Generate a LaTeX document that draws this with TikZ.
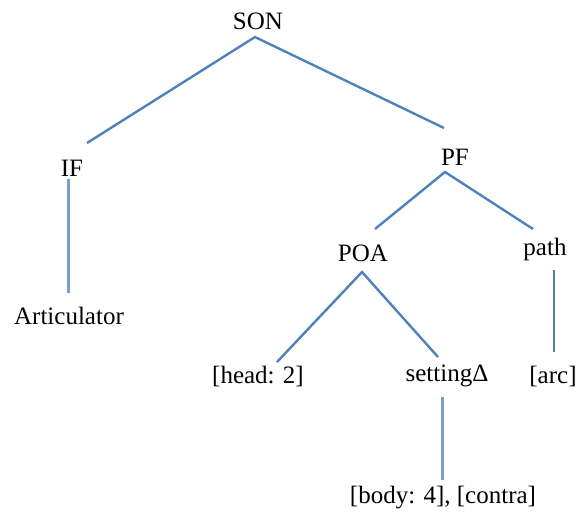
\documentclass[tikz,border=0pt]{standalone}
\usepackage{fontspec}
\setmainfont{Liberation Serif}
\begin{document}
\begin{tikzpicture}[x=1pt,y=-1pt,
  lbl/.style={inner sep=0pt, font=\fontsize{25}{29}\selectfont},
  edge/.style={draw={rgb,255:red,79;green,129;blue,189}, line width=2.4pt},
  vedge/.style={draw={rgb,255:red,120;green,158;blue,205}, line width=3pt}]
\useasboundingbox (0,0) rectangle (579,514);
% nodes
\node[lbl] (SON) at (258,21) {SON};
\node[lbl] (IF) at (72,168) {IF};
\node[lbl] (Art) at (69,316) {Articulator};
\node[lbl] (PF) at (455,157) {PF};
\node[lbl] (POA) at (363,253) {POA};
\node[lbl] (path) at (545,249) {path};
\node[lbl] (head) at (258,376) {[head: 2]};
\node[lbl] (setting) at (447,376) {settingΔ};
\node[lbl] (arc) at (553,376) {[arc]};
\node[lbl] (body) at (443,498) {[body: 4], [contra]};
% connector ends
\coordinate (SONb) at (255,37);
\coordinate (IFt) at (87,143);
\coordinate (PFt) at (444,128);
\coordinate (IFb) at (68,179);
\coordinate (Artt) at (68,293);
\coordinate (PFb) at (445,172);
\coordinate (POAt) at (375,229);
\coordinate (patht) at (533,229);
\coordinate (POAb) at (362,272);
\coordinate (headt) at (277,362);
\coordinate (settingt) at (438,357);
\coordinate (pathb) at (554,270);
\coordinate (arct) at (554,352);
\coordinate (settingb) at (442,397);
\coordinate (bodyt) at (442,480);
% connectors
\draw[edge] (IFt) -- (SONb) -- (PFt);
\draw[vedge] (IFb) -- (Artt);
\draw[edge] (POAt) -- (PFb) -- (patht);
\draw[edge] (headt) -- (POAb) -- (settingt);
\draw[edge] (pathb) -- (arct);
\draw[vedge] (settingb) -- (bodyt);
\end{tikzpicture}
\end{document}
